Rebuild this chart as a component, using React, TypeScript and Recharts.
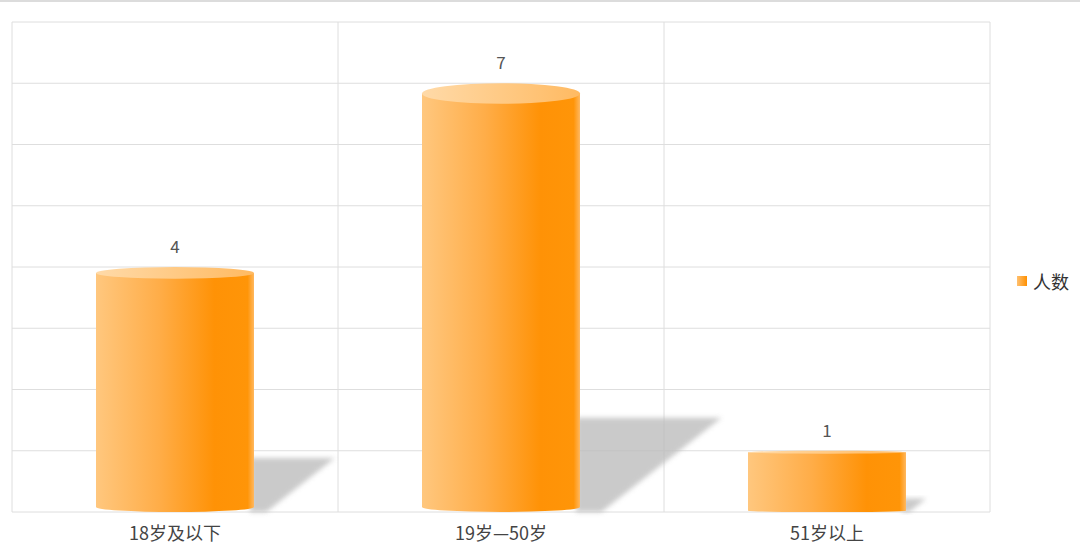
import { Bar, BarChart, CartesianGrid, LabelList, XAxis, YAxis } from "recharts";

const categories = ["18岁及以下", "19岁—50岁", "51岁以上"];
const counts = [4, 7, 1];
const yTicks = [0, 1, 2, 3, 4, 5, 6, 7, 8];
const seriesName = "人数";

const data = categories.map((name, i) => ({ name, count: counts[i] }));

const font = "'Noto Sans CJK SC', 'Noto Sans', sans-serif";
const gridColor = "#dedede";

function Cylinder(props: any) {
  const { x, y, width: w, height: h } = props;
  if (!h || h <= 0) return null;
  const bottom = y + h;
  const ry = h * 0.024;
  const rb = Math.min(5, h * 0.02);
  const right = x + w;
  const sh = h * 0.22;
  const shadow = `M${right - 4},${bottom} L${right - 4},${bottom - sh} L${right + h * 0.33},${bottom - sh} L${right + h * 0.05},${bottom} Z`;
  const body = `M${x},${y + ry} L${x},${bottom - rb} A${w / 2},${rb} 0 0 0 ${right},${bottom - rb} L${right},${y + ry} Z`;
  return (
    <g>
      <path d={shadow} fill="#bdbdbd" opacity={0.8} filter="url(#shadowBlur)" />
      <path d={body} fill="url(#cylBody)" />
      <ellipse cx={x + w / 2} cy={y + ry} rx={w / 2} ry={ry} fill="url(#cylTop)" />
    </g>
  );
}

function LegendBox() {
  return (
    <div style={{ position: "absolute", left: 1017, top: 268, display: "flex", alignItems: "center", fontFamily: font, fontSize: 18, color: "#333" }}>
      <span style={{ width: 10, height: 10, background: "linear-gradient(90deg,#ffc070,#ff9000)", marginRight: 6, display: "inline-block" }} />
      {seriesName}
    </div>
  );
}

export default function App() {
  return (
    <div style={{ position: "absolute", left: 0, top: 0, width: 1080, height: 559, background: "#fff" }}>
      <div style={{ position: "absolute", left: 0, top: 0, width: 1080, height: 2, background: "#dcdcdc" }} />
      <BarChart width={1080} height={559} data={data} margin={{ top: 22, right: 90, bottom: 0, left: 12 }} barSize={158}>
        <defs>
          <linearGradient id="cylBody" x1="0" y1="0" x2="1" y2="0">
            <stop offset="0%" stopColor="#ffc77e" />
            <stop offset="40%" stopColor="#ffad48" />
            <stop offset="75%" stopColor="#ff9206" />
            <stop offset="96%" stopColor="#ff9508" />
            <stop offset="100%" stopColor="#ffb860" />
          </linearGradient>
          <linearGradient id="cylTop" x1="0" y1="0" x2="1" y2="0">
            <stop offset="0%" stopColor="#ffdaa8" />
            <stop offset="100%" stopColor="#ffba62" />
          </linearGradient>
          <filter id="shadowBlur" x="-20%" y="-20%" width="140%" height="140%">
            <feGaussianBlur stdDeviation="2.5" />
          </filter>
        </defs>
        <CartesianGrid
          stroke={gridColor}
          verticalCoordinatesGenerator={({ offset }: any) =>
            [0, 1, 2, 3].map((i) => offset.left + (i * offset.width) / categories.length)
          }
        />
        <XAxis
          dataKey="name"
          height={47}
          axisLine={false}
          tickLine={false}
          tick={{ fontFamily: font, fontSize: 18, fill: "#444" }}
          dy={7}
        />
        <YAxis hide domain={[0, 8]} ticks={yTicks} width={0} />
        <Bar dataKey="count" name={seriesName} shape={Cylinder} isAnimationActive={false}>
          <LabelList dataKey="count" position="top" offset={14} style={{ fontFamily: font, fontSize: 17, fill: "#555" }} />
        </Bar>
      </BarChart>
      <LegendBox />
    </div>
  );
}
